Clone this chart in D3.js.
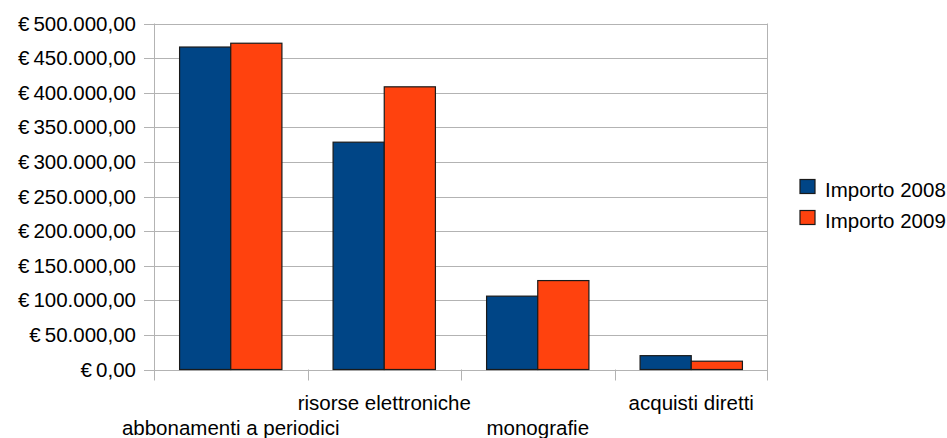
<!DOCTYPE html>
<html><head><meta charset="utf-8">
<script src="https://cdn.jsdelivr.net/npm/d3@7"></script>
<style>body{margin:0;background:#fff}svg{display:block}text{font-family:"Liberation Sans",Arial,sans-serif;fill:#000}</style>
</head><body><svg id="c" width="947" height="438"></svg>
<script>
const categories = ["abbonamenti a periodici","risorse elettroniche","monografie","acquisti diretti"];
const seriesNames = ["Importo 2008","Importo 2009"];
const values2008 = [466000, 328500, 106000, 20000];
const values2009 = [471500, 408500, 128500, 12000];
const yTicks = [0,50000,100000,150000,200000,250000,300000,350000,400000,450000,500000];
const colors = ["#004586","#ff420e"];

const svg = d3.select("#c");
const L=154, R=768, T=23.5, B=369.5;
const FS = 20.5;
const x = d3.scaleBand().domain(categories).range([L,R]).paddingInner(0).paddingOuter(0);
const inner = d3.scaleBand().domain(seriesNames).range([0,x.bandwidth()]).paddingInner(0).paddingOuter(0.5);
const y = d3.scaleLinear().domain([0,500000]).range([B,T]);
const fmt = v => "€\u2009" + d3.format(",.2f")(v).replace(/,/g,"#").replace(/\./g,",").replace(/#/g,".");

// grid
svg.append("g").selectAll("line").data(yTicks).join("line")
  .attr("x1",L-10).attr("x2",R).attr("y1",d=>Math.round(y(d))+0.5).attr("y2",d=>Math.round(y(d))+0.5)
  .attr("stroke","#b3b3b3").attr("stroke-width",1);
svg.append("line").attr("x1",L+0.5).attr("x2",L+0.5).attr("y1",T).attr("y2",B+11).attr("stroke","#b3b3b3");
svg.append("line").attr("x1",R-0.5).attr("x2",R-0.5).attr("y1",T).attr("y2",B+11).attr("stroke","#b3b3b3");
const xt = categories.map(c=>x(c)).slice(1);
svg.append("g").selectAll("line").data(xt).join("line")
  .attr("x1",d=>Math.round(d)+0.5).attr("x2",d=>Math.round(d)+0.5).attr("y1",B).attr("y2",B+11).attr("stroke","#b3b3b3");
svg.append("g").selectAll("text").data(yTicks).join("text")
  .attr("x",136).attr("y",d=>y(d)).attr("dy","0.35em").attr("text-anchor","end")
  .attr("font-size",FS).text(fmt);

const data = categories.map((c,i)=>({c, v:[values2008[i],values2009[i]]}));
const g = svg.append("g").selectAll("g").data(data).join("g").attr("transform",d=>`translate(${x(d.c)},0)`);
g.selectAll("rect").data(d=>d.v.map((v,j)=>({v,s:seriesNames[j],j}))).join("rect")
  .attr("x",d=>inner(d.s)).attr("width",inner.bandwidth())
  .attr("y",d=>y(d.v)).attr("height",d=>B-y(d.v))
  .attr("fill",d=>colors[d.j]).attr("stroke","#1a1a1a").attr("stroke-width",1.2);

svg.append("g").selectAll("text").data(categories).join("text")
  .attr("x",c=>x(c)+x.bandwidth()/2).attr("y",(c,i)=> i%2===0 ? 435 : 409.5)
  .attr("text-anchor","middle").attr("font-size",FS).text(c=>c);

const lg = svg.append("g").selectAll("g").data(seriesNames).join("g")
  .attr("transform",(d,i)=>`translate(800,${179.5+i*31})`);
lg.append("rect").attr("width",15).attr("height",14).attr("fill",(d,i)=>colors[i]).attr("stroke","#1a1a1a").attr("stroke-width",1.2);
lg.append("text").attr("x",25).attr("y",17).attr("font-size",FS).text(d=>d);
</script></body></html>
